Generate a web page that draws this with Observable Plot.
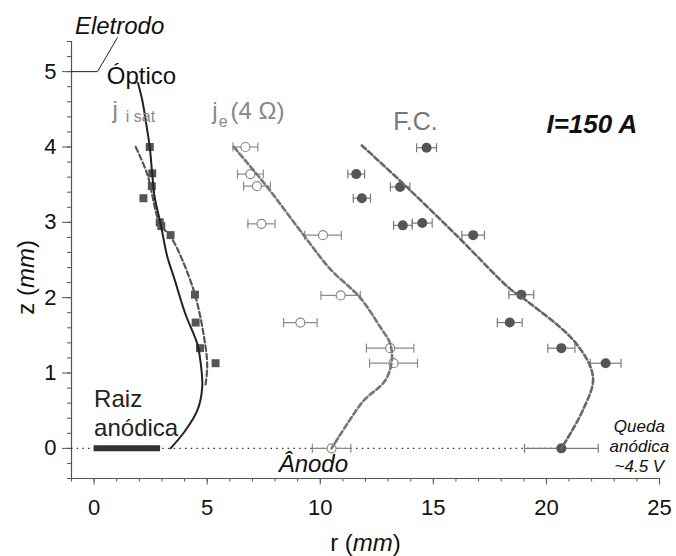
<!DOCTYPE html>
<html><head><meta charset="utf-8">
<script src="https://cdn.jsdelivr.net/npm/d3@7"></script>
<script src="https://cdn.jsdelivr.net/npm/@observablehq/plot@0.6"></script>
<style>body{margin:0;background:#fff}</style>
</head><body><div id="chart"></div>
<script>
// --- data ---
const jisatR = [2.46, 2.57, 2.55, 2.18, 2.90, 2.97, 3.38, 4.46, 4.49, 4.68, 5.37];
const jisatZ = [4.00, 3.65, 3.48, 3.32, 3.00, 2.95, 2.83, 2.04, 1.67, 1.33, 1.13];

const jeR   = [6.69, 6.91, 7.20, 7.40, 10.12, 10.90, 9.12, 13.09, 13.24, 10.50];
const jeZ   = [4.00, 3.64, 3.48, 2.98, 2.83, 2.03, 1.67, 1.33, 1.13, 0.00];
const jeErr = [0.55, 0.57, 0.59, 0.60, 0.81, 0.87, 0.74, 1.05, 1.06, 0.85];

const fcR   = [14.70, 11.59, 13.53, 11.84, 13.65, 14.51, 16.76, 18.89, 18.38, 20.66, 22.62, 20.66];
const fcZ   = [3.99, 3.64, 3.47, 3.32, 2.96, 2.99, 2.83, 2.04, 1.67, 1.33, 1.13, 0.00];
const fcErr = [0.44, 0.37, 0.43, 0.38, 0.41, 0.44, 0.50, 0.55, 0.55, 0.60, 0.68, 1.63];

const opticR = [1.94, 2.13, 2.35, 2.46, 2.57, 2.68, 2.94, 3.24, 3.53, 4.04, 4.56, 4.70, 4.78, 4.56, 3.97, 3.38];
const opticZ = [4.85, 4.62, 4.22, 4.00, 3.64, 3.33, 2.98, 2.54, 2.27, 1.78, 1.39, 1.16, 0.81, 0.50, 0.21, 0.00];

const fitIR = [1.84, 2.35, 2.91, 3.41, 4.41, 4.93, 5.00, 4.93];
const fitIZ = [4.00, 3.64, 2.98, 2.80, 2.09, 1.34, 1.08, 0.85];

const fitER = [6.18, 7.65, 9.29, 10.44, 11.76, 12.65, 13.09, 13.16, 12.87, 11.91, 11.18, 10.50];
const fitEZ = [4.00, 3.47, 2.82, 2.38, 2.00, 1.61, 1.39, 1.16, 0.90, 0.63, 0.32, 0.00];

const fitFR = [11.84, 13.82, 16.18, 18.38, 19.12, 21.32, 22.06, 21.60, 20.66];
const fitFZ = [4.02, 3.47, 2.78, 2.12, 1.96, 1.39, 0.94, 0.50, 0.00];

const raizExtent = [0, 2.94];
const anodeExtent = [-1, 20.66];
const leaderR = [-1, 0.15, 1.03];
const leaderZ = [5, 5, 5.45];

const xMajor = [0, 5, 10, 15, 20, 25];
const xMinor = d3.range(-1, 26, 1);
const yMajor = [0, 1, 2, 3, 4, 5];
const yMinor = d3.range(-4, 55, 2).map(d => d / 10);

// --- tables ---
const jisat = jisatR.map((r, i) => ({r, z: jisatZ[i]}));
const je = jeR.map((r, i) => ({r, z: jeZ[i], lo: r - jeErr[i], hi: r + jeErr[i]}));
const fc = fcR.map((r, i) => ({r, z: fcZ[i], lo: r - fcErr[i], hi: r + fcErr[i]}));
const optic = opticR.map((r, i) => ({r, z: opticZ[i]}));
const fitI = fitIR.map((r, i) => ({r, z: fitIZ[i]}));
const fitE = fitER.map((r, i) => ({r, z: fitEZ[i]}));
const fitF = fitFR.map((r, i) => ({r, z: fitFZ[i]}));
const leader = leaderR.map((r, i) => ({r, z: leaderZ[i]}));
const caps = arr => arr.flatMap(d => [{r: d.lo, z: d.z}, {r: d.hi, z: d.z}]);

const vbar = {draw(ctx, size) { const h = Math.sqrt(size / Math.PI); ctx.moveTo(0, -h); ctx.lineTo(0, h); }};

const F = "'Liberation Sans', Arial, Helvetica, sans-serif";
const axisC = "#555";
const fmt = d => String(d);

const plot = Plot.plot({
  width: 676, height: 556,
  marginLeft: 71, marginRight: 17, marginTop: 41, marginBottom: 78,
  x: {domain: [-1, 25]},
  y: {domain: [-0.4, 5.4]},
  style: {fontFamily: F, background: "white", color: "#111", overflow: "visible"},
  marks: [
    Plot.axisX({ticks: xMinor, tickSize: 3.5, tickFormat: () => "", stroke: axisC, label: null}),
    Plot.axisX({ticks: xMajor, tickSize: 6.5, tickPadding: 14, fontSize: 22, tickFormat: fmt, stroke: axisC, fill: "#111", label: null}),
    Plot.axisY({ticks: yMinor, tickSize: 4, tickFormat: () => "", stroke: axisC, label: null}),
    Plot.axisY({ticks: yMajor, tickSize: 9, tickPadding: 6, fontSize: 22, tickFormat: fmt, stroke: axisC, fill: "#111", label: null}),
    Plot.ruleX([-1], {stroke: axisC, strokeWidth: 1.2}),
    Plot.ruleY([-0.4], {stroke: axisC, strokeWidth: 1.2}),

    // anode dotted line and anodic root bar
    Plot.ruleY([0], {x1: anodeExtent[0], x2: anodeExtent[1], stroke: "#333", strokeWidth: 1.1, strokeDasharray: "1.5,4.2"}),
    Plot.ruleY([0], {x1: raizExtent[0], x2: raizExtent[1], stroke: "#333", strokeWidth: 6}),

    // error bars
    Plot.ruleY(je, {y: "z", x1: "lo", x2: "hi", stroke: "#8a8a8a", strokeWidth: 1.2}),
    Plot.dot(caps(je), {x: "r", y: "z", symbol: vbar, r: 4.5, stroke: "#8a8a8a", strokeWidth: 1.2}),
    Plot.ruleY(fc, {y: "z", x1: "lo", x2: "hi", stroke: "#7a7a7a", strokeWidth: 1.2}),
    Plot.dot(caps(fc), {x: "r", y: "z", symbol: vbar, r: 4.5, stroke: "#7a7a7a", strokeWidth: 1.2}),

    // markers
    Plot.dot(jisat, {x: "r", y: "z", symbol: "square", r: 4.5, fill: "#555", stroke: "none"}),
    Plot.dot(je, {x: "r", y: "z", r: 4.5, fill: "white", stroke: "#888", strokeWidth: 1.2}),
    Plot.dot(fc, {x: "r", y: "z", r: 5, fill: "#555", stroke: "none"}),

    // curves
    Plot.line(fitI, {x: "r", y: "z", curve: "catmull-rom", stroke: "#555", strokeWidth: 2.2, strokeDasharray: "5.5,3"}),
    Plot.line(fitE, {x: "r", y: "z", curve: "catmull-rom", stroke: "#777", strokeWidth: 2.6, strokeDasharray: "5.5,3"}),
    Plot.line(fitF, {x: "r", y: "z", curve: "catmull-rom", stroke: "#666", strokeWidth: 2.6, strokeDasharray: "5.5,3"}),
    Plot.line(optic, {x: "r", y: "z", curve: "catmull-rom", stroke: "#222", strokeWidth: 2}),
    Plot.line(leader, {x: "r", y: "z", stroke: "#222", strokeWidth: 1}),

    // annotations
    Plot.text(["Eletrodo"], {x: -0.85, y: 5.50, textAnchor: "start", lineAnchor: "bottom", fontSize: 24, fontStyle: "italic", fill: "#111"}),
    Plot.text(["Óptico"], {x: 0.56, y: 4.84, textAnchor: "start", lineAnchor: "bottom", fontSize: 24, fill: "#111"}),
    Plot.text(["j"], {x: 0.81, y: 4.38, textAnchor: "start", lineAnchor: "bottom", fontSize: 24, fill: "#888"}),
    Plot.text(["i sat"], {x: 1.40, y: 4.33, textAnchor: "start", lineAnchor: "bottom", fontSize: 16, fill: "#888"}),
    Plot.text(["j"], {x: 5.22, y: 4.37, textAnchor: "start", lineAnchor: "bottom", fontSize: 24, fill: "#888"}),
    Plot.text(["e"], {x: 5.51, y: 4.26, textAnchor: "start", lineAnchor: "bottom", fontSize: 16, fill: "#888"}),
    Plot.text(["(4 Ω)"], {x: 6.03, y: 4.37, textAnchor: "start", lineAnchor: "bottom", fontSize: 24, fill: "#888"}),
    Plot.text(["F.C."], {x: 13.23, y: 4.23, textAnchor: "start", lineAnchor: "bottom", fontSize: 25, fill: "#777"}),
    Plot.text(["I=150 A"], {x: 20.0, y: 4.18, textAnchor: "start", lineAnchor: "bottom", fontSize: 26, fontWeight: "bold", fontStyle: "italic", fill: "#111"}),
    Plot.text(["Raiz\nanódica"], {x: 0, y: 0.17, textAnchor: "start", lineAnchor: "bottom", fontSize: 24, lineHeight: 1.17, fill: "#222"}),
    Plot.text(["Ânodo"], {x: 8.16, y: -0.32, textAnchor: "start", lineAnchor: "bottom", fontSize: 24, fontStyle: "italic", fill: "#111"}),
    Plot.text(["Queda\nanódica\n~4.5 V"], {x: 24.11, y: -0.31, textAnchor: "middle", lineAnchor: "bottom", fontSize: 17, lineHeight: 1.16, fontStyle: "italic", fill: "#111"}),

    // axis titles
    Plot.text(["z (mm)"], {frameAnchor: "left", y: 2.27, dx: -38, rotate: -90, textAnchor: "middle", lineAnchor: "bottom", fontSize: 24, fill: "#111"}),
    Plot.text(["r (mm)"], {frameAnchor: "bottom", dy: 72, textAnchor: "middle", lineAnchor: "bottom", fontSize: 24, fill: "#111"})
  ]
});

d3.select(plot).selectAll("text").each(function() {
  const t = this.textContent;
  if (t === "z (mm)") this.innerHTML = 'z (<tspan font-style="italic">mm</tspan>)';
  if (t === "r (mm)") this.innerHTML = 'r (<tspan font-style="italic">mm</tspan>)';
});

document.getElementById("chart").appendChild(plot);
</script></body></html>
